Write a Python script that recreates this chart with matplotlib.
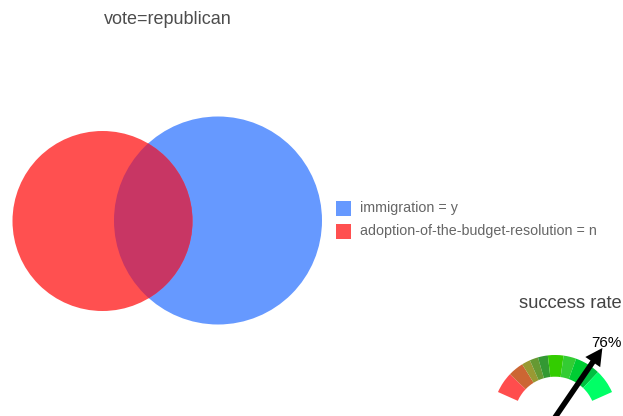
import numpy as np
import matplotlib
matplotlib.use("Agg")
import matplotlib.pyplot as plt
from matplotlib.patches import Circle, Wedge, Rectangle, FancyArrow

# data
title = "vote=republican"
set_labels = ["immigration = y", "adoption-of-the-budget-resolution = n"]
set_colors = ["#6699ff", "#ff5050"]
overlap_color = "#c83664"

gauge_title = "success rate"
gauge_value = 76  # percent
gauge_bounds = [0, 15, 26, 32, 38, 45, 56, 65, 75, 83, 100]
gauge_colors = ["#ff4d4d", "#cc6633", "#999933", "#669933", "#339933",
                "#33cc00", "#33cc33", "#00cc33", "#00c040", "#00ff66"]

plt.rcParams.update({'font.family': ['Liberation Sans', 'DejaVu Sans']})

W, H = 623, 416
fig = plt.figure(figsize=(W / 100, H / 100), dpi=100)
ax = fig.add_axes([0, 0, 1, 1])
ax.set_xlim(0, W)
ax.set_ylim(H, 0)
ax.set_aspect('equal')
ax.axis('off')

# venn circles (pixel layout)
blue_c, blue_r = (218, 220.5), 104
red_c, red_r = (102.5, 221), 90

ax.add_patch(Circle(blue_c, blue_r, color=set_colors[0], lw=0))
ax.add_patch(Circle(red_c, red_r, color=set_colors[1], lw=0))
ov = Circle(blue_c, blue_r, color=overlap_color, lw=0)
ax.add_patch(ov)
clip = Circle(red_c, red_r, transform=ax.transData)
ov.set_clip_path(clip)

ax.text(168, 20, title, ha='center', va='center', fontsize=13, color='#4d4d4d')

# legend
for i, (lab, col) in enumerate(zip(set_labels, set_colors)):
    y = 208 + i * 23
    ax.add_patch(Rectangle((336, y - 7.5), 15, 15, color=col, lw=0))
    ax.text(360, y, lab, ha='left', va='center', fontsize=10.3, color='#666666')

# gauge
gc = (555, 417.4)
r_out, r_in = 62.4, 40.7
a0, a1 = 156, 24
def ang(p):
    return a0 - (a0 - a1) * p / 100.0

for lo, hi, col in zip(gauge_bounds[:-1], gauge_bounds[1:], gauge_colors):
    # y axis is inverted, so flip angles
    ax.add_patch(Wedge(gc, r_out, -ang(lo), -ang(hi), width=r_out - r_in,
                       color=col, lw=0))

theta = np.deg2rad(ang(gauge_value))
L = 84
dx, dy = L * np.cos(theta), -L * np.sin(theta)
ax.add_patch(FancyArrow(gc[0], gc[1], dx, dy, width=5.5, head_width=18,
                        head_length=17, length_includes_head=True,
                        color='black', lw=0))
ax.text(606.5, 343, f"{gauge_value}%", ha='center', va='center', fontsize=11, color='black')
ax.text(570.5, 304, gauge_title, ha='center', va='center', fontsize=13.2, color='#444444')

fig.savefig("out.png", dpi=100)
